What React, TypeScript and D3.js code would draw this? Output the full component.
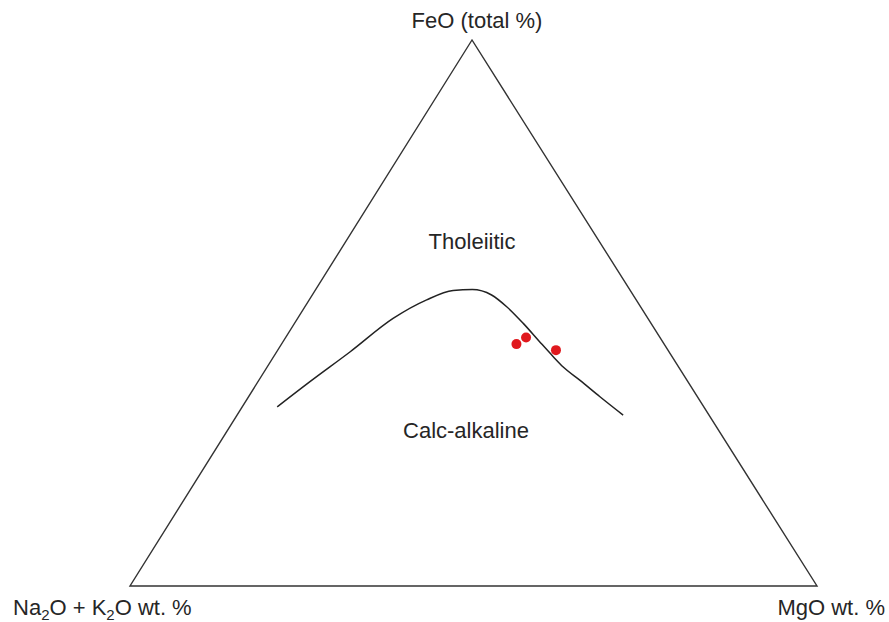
import React from 'react';
import * as d3 from 'd3';

// AFM diagram, values in wt. % (A = Na2O + K2O, F = FeO total, M = MgO)
const boundaryA = [62.1, 55.0, 46.4, 37.1, 30.5, 25.8, 22.9, 20.6, 19.5, 18.6, 17.9, 17.3, 16.8, 15.6, 14.2, 12.5];
const boundaryF = [32.8, 37.5, 42.9, 49.0, 52.4, 54.1, 54.3, 53.3, 51.2, 48.1, 44.7, 42.0, 40.1, 37.7, 34.7, 31.3];
const boundaryM = [5.1, 7.6, 10.7, 13.9, 17.1, 20.1, 22.8, 26.1, 29.4, 33.3, 37.4, 40.7, 43.1, 46.7, 51.2, 56.2];

const sampleA = [21.5, 19.5, 16.3];
const sampleF = [44.3, 45.5, 43.2];
const sampleM = [34.2, 35.0, 40.5];

const fieldLabels = ['Tholeiitic', 'Calc-alkaline'];

const W = 889;
const H = 622;
const left = { x: 130, y: 586 };
const right = { x: 817, y: 586 };
const apex = { x: 472, y: 40 };

// horizontal: MgO moves toward right corner, FeO toward apex
const mScale = d3.scaleLinear().domain([0, 100]).range([0, right.x - left.x]);
const fxScale = d3.scaleLinear().domain([0, 100]).range([0, apex.x - left.x]);
const fyScale = d3.scaleLinear().domain([0, 100]).range([left.y, apex.y]);

function project(a: number, f: number, m: number): [number, number] {
  const s = a + f + m;
  const fn = (f / s) * 100;
  const mn = (m / s) * 100;
  return [left.x + mScale(mn) + fxScale(fn), fyScale(fn)];
}

const App = () => {
  const boundary = boundaryA.map((a, i) => project(a, boundaryF[i], boundaryM[i]));
  const samples = sampleA.map((a, i) => project(a, sampleF[i], sampleM[i]));

  const line = d3.line().curve(d3.curveMonotoneX);
  const tri = d3.line().curve(d3.curveLinearClosed)([
    project(0, 100, 0),
    project(100, 0, 0),
    project(0, 0, 100),
  ]);

  const font = '"Liberation Sans", Arial, sans-serif';
  const txt = '#262626';

  return (
    <svg width={W} height={H} style={{ position: 'absolute', left: 0, top: 0, background: '#fff' }}>
      <path d={tri || ''} fill="none" stroke="#333" strokeWidth={1.4} />
      <path d={line(boundary) || ''} fill="none" stroke="#222" strokeWidth={1.5} />
      {samples.map((p, i) => (
        <circle key={i} cx={p[0]} cy={p[1]} r={5} fill="#e0191e" />
      ))}

      <g fontFamily={font} fontSize={22} fill={txt}>
        <text x={477} y={28} textAnchor="middle">FeO (total %)</text>
        <text x={13} y={615}>
          Na<tspan fontSize={15} dy={5}>2</tspan>
          <tspan dy={-5}>O + K</tspan>
          <tspan fontSize={15} dy={5}>2</tspan>
          <tspan dy={-5}>O wt. %</tspan>
        </text>
        <text x={885} y={615} textAnchor="end">MgO wt. %</text>
        <text x={472} y={249} textAnchor="middle">{fieldLabels[0]}</text>
        <text x={466} y={438} textAnchor="middle">{fieldLabels[1]}</text>
      </g>
    </svg>
  );
};

export default App;
